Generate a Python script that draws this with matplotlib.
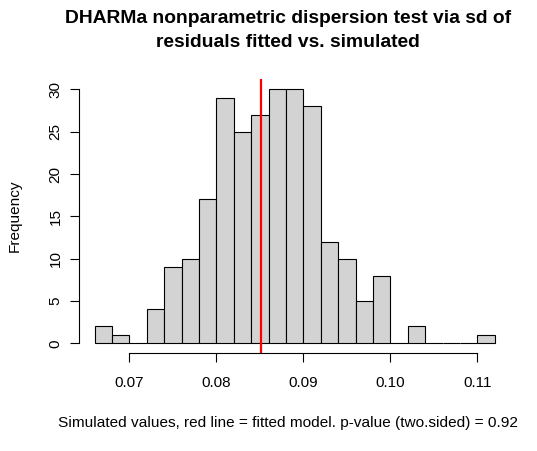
import numpy as np
import matplotlib.pyplot as plt

plt.rcParams['font.family'] = ['Liberation Sans', 'DejaVu Sans']

# histogram of simulated sd values (bin width 0.002)
counts = [2, 1, 0, 4, 9, 10, 17, 29, 25, 27, 30, 30, 28, 12, 10, 5, 8, 0, 2, 0, 0, 0, 1]
bin_start = 0.066
bin_width = 0.002
bin_left = bin_start + bin_width * np.arange(len(counts))
observed = 0.0851
xticks = [0.07, 0.08, 0.09, 0.10, 0.11]
xticklabels = ["0.07", "0.08", "0.09", "0.10", "0.11"]
yticks = [0, 5, 10, 15, 20, 25, 30]

fig = plt.figure(figsize=(5.37, 4.51), dpi=100)
ax = fig.add_axes([0.1462, 0.2162, 0.805, 0.6082])

ax.bar(bin_left, counts, width=bin_width, align='edge', color='#D3D3D3',
       edgecolor='black', linewidth=0.8)
ax.axvline(observed, color='red', linewidth=1.6)

x0, x1 = bin_left[0], bin_left[-1] + bin_width
pad = (x1 - x0) * 0.04
ax.set_xlim(x0 - pad, x1 + pad)
ax.set_ylim(-1.2, 31.2)

for s in ['top', 'right']:
    ax.spines[s].set_visible(False)
ax.spines['left'].set_bounds(0, 30)
ax.spines['bottom'].set_bounds(0.07, 0.11)
for s in ['left', 'bottom']:
    ax.spines[s].set_linewidth(0.8)

ax.set_xticks(xticks)
ax.set_xticklabels(xticklabels)
ax.set_yticks(yticks)
ax.tick_params(direction='out', length=6.5, width=0.8, labelsize=11)
ax.tick_params(axis='x', pad=9.5)
ax.tick_params(axis='y', pad=5)
plt.setp(ax.get_yticklabels(), rotation=90, va='center')

fig.text(0.537, 0.958, "DHARMa nonparametric dispersion test via sd of",
         ha='center', va='center', fontsize=13.9, fontweight='bold')
fig.text(0.537, 0.906, "residuals fitted vs. simulated",
         ha='center', va='center', fontsize=13.9, fontweight='bold')
fig.text(0.536, 0.062, "Simulated values, red line = fitted model. p-value (two.sided) = 0.92",
         ha='center', va='center', fontsize=11.1)
fig.text(0.028, 0.521, "Frequency", rotation=90, ha='center', va='center', fontsize=11.1)

fig.savefig("out.png", dpi=100)
